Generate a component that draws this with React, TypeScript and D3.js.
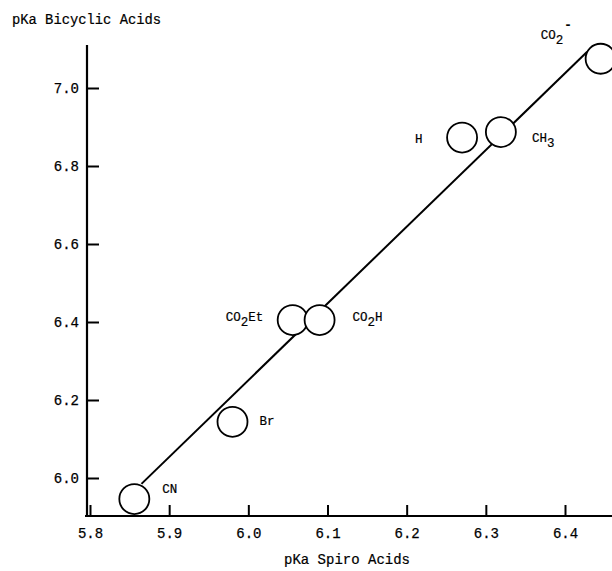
import * as d3 from "d3";
import React, { useEffect, useRef } from "react";

// substituents, spiro pKa (x) and bicyclic pKa (y)
const labels = ["CN", "Br", "CO2Et", "CO2H", "H", "CH3", "CO2-"];
const spiro = [5.856, 5.98, 6.056, 6.09, 6.27, 6.319, 6.445];
const bicyclic = [5.946, 6.144, 6.405, 6.405, 6.873, 6.887, 7.075];

// correlation line end points
const lineX = [5.865, 6.428];
const lineY = [5.985, 7.093];

const xTicks = [5.8, 5.9, 6.0, 6.1, 6.2, 6.3, 6.4];
const yTicks = [6.0, 6.2, 6.4, 6.6, 6.8, 7.0];

// label offsets relative to point centre (dx, dy of baseline)
const labelPos = {
  CN: [28, -6],
  Br: [27, 3],
  CO2Et: [-67, 1],
  CO2H: [33, 1],
  H: [-47, 5],
  CH3: [31, 10],
  "CO2-": [-60, -20],
};

const FONT = "'Liberation Mono', 'DejaVu Sans Mono', monospace";

const App = () => {
  const ref = useRef(null);

  useEffect(() => {
    const width = 612;
    const height = 571;

    const x = d3.scaleLinear().domain([5.8, 6.4]).range([90, 565]);
    const y = d3.scaleLinear().domain([6.0, 7.0]).range([478, 88]);
    const axisX = 87;
    const axisY = 516;

    const svg = d3.select(ref.current).attr("width", width).attr("height", height);
    svg.selectAll("*").remove();

    // x axis
    const gx = svg
      .append("g")
      .attr("transform", `translate(0, ${axisY})`)
      .call(
        d3
          .axisBottom(x)
          .tickValues(xTicks)
          .tickSizeInner(-11)
          .tickSizeOuter(0)
          .tickPadding(12)
          .tickFormat(d3.format(".1f"))
      );
    gx.select(".domain").remove();
    gx.append("line")
      .attr("x1", axisX - 2)
      .attr("x2", width)
      .attr("stroke", "#000")
      .attr("stroke-width", 2.2);
    gx.selectAll(".tick line").attr("stroke-width", 2);
    gx.selectAll(".tick text")
      .attr("font-family", FONT)
      .attr("font-size", 14)
      .attr("fill", "#000")
      .attr("stroke", "#000")
      .attr("stroke-width", 0.25);

    // y axis
    const gy = svg
      .append("g")
      .attr("transform", `translate(${axisX}, 0)`)
      .call(
        d3
          .axisLeft(y)
          .tickValues(yTicks)
          .tickSizeInner(-12)
          .tickSizeOuter(0)
          .tickPadding(8)
          .tickFormat(d3.format(".1f"))
      );
    gy.select(".domain").remove();
    gy.append("line")
      .attr("y1", 45)
      .attr("y2", axisY + 1)
      .attr("stroke", "#000")
      .attr("stroke-width", 2.2);
    gy.selectAll(".tick line").attr("stroke-width", 2);
    gy.selectAll(".tick text")
      .attr("font-family", FONT)
      .attr("font-size", 14)
      .attr("fill", "#000")
      .attr("stroke", "#000")
      .attr("stroke-width", 0.25);

    // axis titles
    svg
      .append("text")
      .attr("x", 12)
      .attr("y", 24)
      .attr("font-family", FONT)
      .attr("font-size", 13.8)
      .attr("stroke", "#000")
      .attr("stroke-width", 0.2)
      .text("pKa Bicyclic Acids");
    svg
      .append("text")
      .attr("x", 347)
      .attr("y", 564)
      .attr("text-anchor", "middle")
      .attr("font-family", FONT)
      .attr("font-size", 14)
      .attr("stroke", "#000")
      .attr("stroke-width", 0.2)
      .text("pKa Spiro Acids");

    // correlation line
    svg
      .append("line")
      .attr("x1", x(lineX[0]))
      .attr("y1", y(lineY[0]))
      .attr("x2", x(lineX[1]))
      .attr("y2", y(lineY[1]))
      .attr("stroke", "#000")
      .attr("stroke-width", 2);

    // points
    svg
      .append("g")
      .selectAll("circle")
      .data(labels)
      .join("circle")
      .attr("cx", (_, i) => x(spiro[i]))
      .attr("cy", (_, i) => y(bicyclic[i]))
      .attr("r", 15)
      .attr("fill", "#fff")
      .attr("stroke", "#000")
      .attr("stroke-width", 1.8);

    // point labels with subscripts
    const lab = svg
      .append("g")
      .attr("font-family", FONT)
      .attr("font-size", 12.5)
      .attr("stroke", "#000")
      .attr("stroke-width", 0.2)
      .selectAll("text")
      .data(labels)
      .join("text")
      .attr("x", (d, i) => x(spiro[i]) + labelPos[d][0])
      .attr("y", (d, i) => y(bicyclic[i]) + labelPos[d][1]);

    lab.each(function (d) {
      const t = d3.select(this);
      const m = d.match(/^([A-Z]+?)(\d)(.*)$/);
      if (!m) {
        t.text(d);
        return;
      }
      t.append("tspan").text(m[1]);
      t.append("tspan").attr("dy", 5).text(m[2]);
      if (m[3] === "-") {
        t.append("tspan").attr("dy", -15).attr("dx", 1).attr("font-weight", "bold").text("-");
      } else if (m[3]) {
        t.append("tspan").attr("dy", -5).text(m[3]);
      }
    });
  }, []);

  return (
    <svg
      ref={ref}
      style={{ position: "absolute", left: 0, top: 0, background: "#fff" }}
    />
  );
};

export default App;
